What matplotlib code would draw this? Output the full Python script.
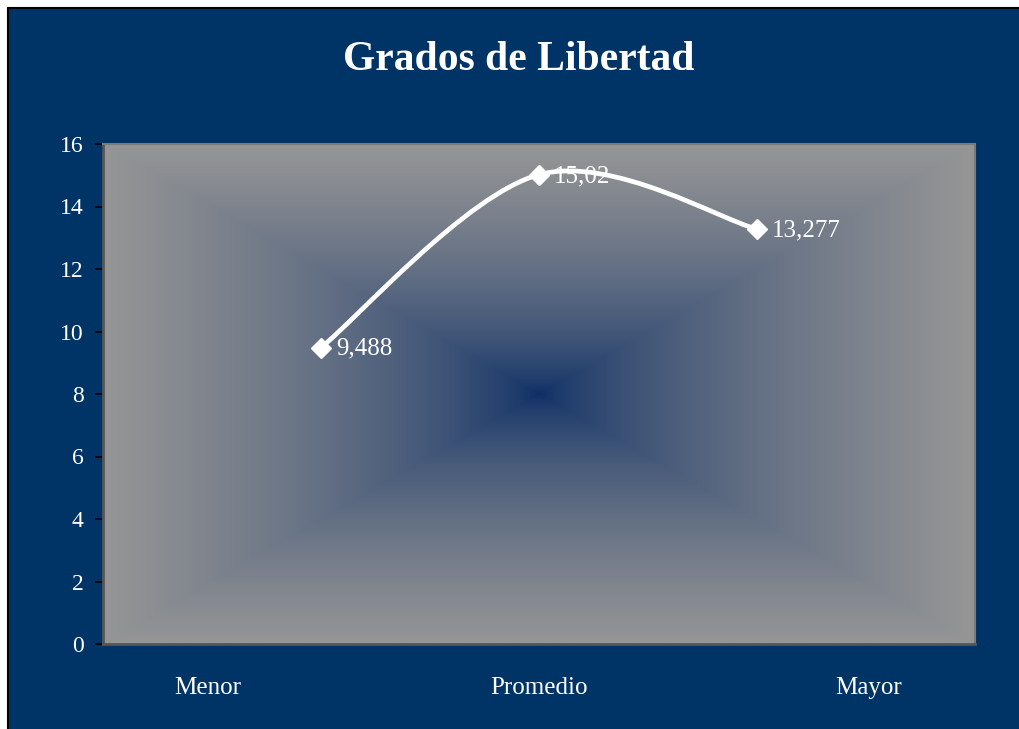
import matplotlib
matplotlib.use("Agg")
import matplotlib.pyplot as plt
import numpy as np
from matplotlib.path import Path
from matplotlib.patches import PathPatch, Rectangle

categorias = ["Menor", "Promedio", "Mayor"]
valores = [9.488, 15.02, 13.277]
etiquetas = ["9,488", "15,02", "13,277"]
pos_x = [1, 2, 3]
pos_etiq_x = [0.48, 2.0, 3.51]
yticks = list(range(0, 17, 2))

navy = "#003366"
fuente = "Liberation Serif"

fig = plt.figure(figsize=(10.19, 7.29), dpi=100, facecolor="white")
fig.patches.append(Rectangle((8 / 1019, -0.01), 1.0, 1.01 - 8 / 729,
                             transform=fig.transFigure, facecolor=navy,
                             edgecolor="black", lw=1.5, zorder=-1))

ax = fig.add_axes([103 / 1019, 85 / 729, 872 / 1019, 500 / 729])
ax.set_zorder(2)
ax.set_facecolor("#969696")

# degradado rectangular desde el centro
n = 400
gx, gy = np.meshgrid(np.linspace(-1, 1, n), np.linspace(-1, 1, n))
t = np.maximum(np.abs(gx), np.abs(gy))
centro = np.array([10, 44, 100]) / 255
borde = np.array([150, 150, 150]) / 255
t = t[..., None] ** 0.65
img = centro * (1 - t) + borde * t
ax.imshow(img, extent=[0, 1, 0, 1], transform=ax.transAxes, aspect="auto",
          zorder=0, interpolation="bilinear")

ax.set_xlim(0, 4)
ax.set_ylim(0, 16)

# curva suavizada (tipo Catmull-Rom)
px = np.array(pos_x, float)
py = np.array(valores, float)
verts = [(px[0], py[0])]
codes = [Path.MOVETO]
for i in range(len(px) - 1):
    p0 = i - 1 if i > 0 else i
    p3 = i + 2 if i + 2 < len(px) else i + 1
    c1 = (px[i] + (px[i + 1] - px[p0]) / 6, py[i] + (py[i + 1] - py[p0]) / 6)
    c2 = (px[i + 1] - (px[p3] - px[i]) / 6, py[i + 1] - (py[p3] - py[i]) / 6)
    verts += [c1, c2, (px[i + 1], py[i + 1])]
    codes += [Path.CURVE4] * 3
ax.add_patch(PathPatch(Path(verts, codes), facecolor="none", edgecolor="white",
                       lw=3.4, zorder=3, capstyle="round"))
ax.plot(pos_x, valores, linestyle="none", marker="D", ms=10.5, color="white",
        zorder=4)

for x, y, s in zip(pos_x, valores, etiquetas):
    ax.annotate(s, (x, y), xytext=(11, -1), textcoords="offset points",
                ha="left", va="center", color="white", fontsize=18,
                family=fuente, zorder=5)

ax.set_yticks(yticks)
ax.set_yticklabels([str(v) for v in yticks], family=fuente, fontsize=17,
                   color="white")
ax.tick_params(axis="y", direction="out", length=6, width=1.2, color="black",
               pad=8)
ax.set_xticks(pos_etiq_x)
ax.set_xticklabels(categorias, family=fuente, fontsize=18, color="white")
ax.tick_params(axis="x", length=0, pad=24)

for lado in ["left", "bottom"]:
    ax.spines[lado].set_color("#555555")
    ax.spines[lado].set_linewidth(2)
for lado in ["top", "right"]:
    ax.spines[lado].set_color("#7a7a7a")
    ax.spines[lado].set_linewidth(1.5)

fig.text(519 / 1019, 1 - 60 / 729, "Grados de Libertad", ha="center",
         va="center", color="white", fontsize=30, fontweight="bold",
         family=fuente)

fig.savefig("out.png", dpi=100, facecolor=fig.get_facecolor())
